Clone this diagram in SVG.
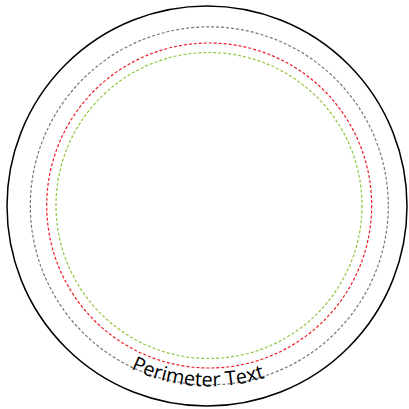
<svg xmlns="http://www.w3.org/2000/svg" width="409" height="409" viewBox="0 0 409 409">
<style>
.ring{fill:none}
.outer{stroke:#000;stroke-width:1.5}
.dash{stroke-width:1.2;stroke-dasharray:3 2}
.gray{stroke:#777}
.red{stroke:#ed1c24}
.green{stroke:#8dc63f}
.lbl{font-family:"Open Sans","Liberation Sans",sans-serif;font-size:20px;fill:#000}
</style>
<defs>
<path id="textArc" d="M 28 205.5 A 181 181 0 0 0 390 205.5"/>
</defs>
<rect width="409" height="409" fill="#fff"/>
<g id="outer-circle"><circle class="ring outer" cx="207" cy="206" r="200"/></g>
<g id="gray-circle"><circle class="ring dash gray" cx="209.3" cy="205.8" r="179"/></g>
<g id="red-circle"><circle class="ring dash red" cx="209.2" cy="205.5" r="162.5"/></g>
<g id="green-circle"><circle class="ring dash green" cx="209" cy="205.5" r="153"/></g>
<g id="perimeter-text">
<text class="lbl" text-anchor="middle"><textPath href="#textArc" startOffset="47.9%">Perimeter Text</textPath></text>
</g>
</svg>
